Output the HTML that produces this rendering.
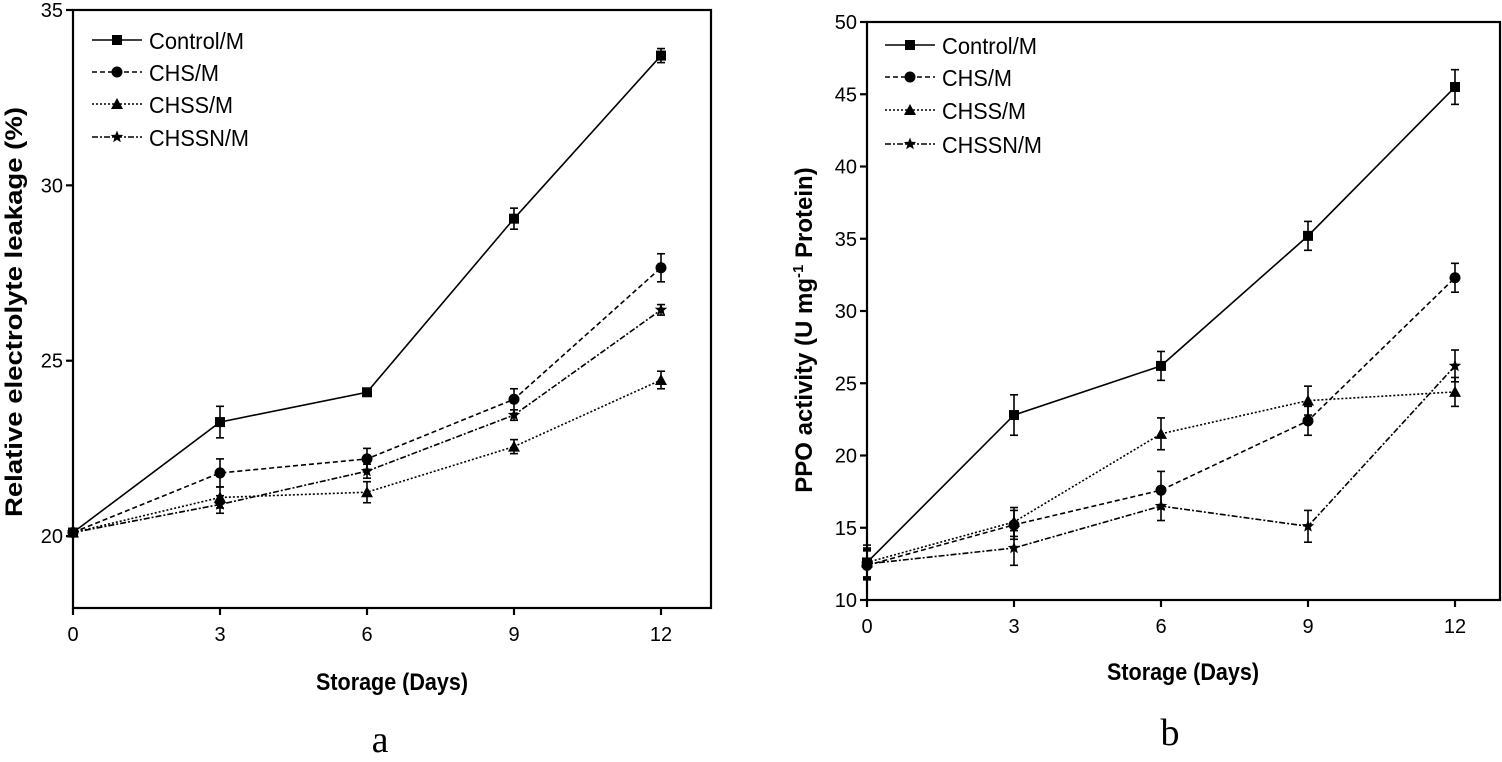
<!DOCTYPE html>
<html><head><meta charset="utf-8"><style>
body{margin:0;background:#fff}
svg text{font-family:"Liberation Sans Narrow","Liberation Sans",Arial,sans-serif;fill:#000}
</style></head><body>
<svg id="s" width="1502" height="757" viewBox="0 0 1502 757" xmlns="http://www.w3.org/2000/svg"></svg>
<script>
const s=document.getElementById('s');let h='';
const dash=['','5,3','2,2','6,2,2,2'];
function marker(k,x,y){
 if(k==0)return `<rect x="${x-5}" y="${y-5}" width="10" height="10"/>`;
 if(k==1)return `<circle cx="${x}" cy="${y}" r="5.5"/>`;
 if(k==2)return `<polygon points="${x},${y-6} ${x-6},${y+5} ${x+6},${y+5}"/>`;
 let p=[];for(let i=0;i<10;i++){let r=i%2?2.8:6.5,a=-Math.PI/2+i*Math.PI/5;p.push((x+r*Math.cos(a)).toFixed(1)+','+(y+r*Math.sin(a)).toFixed(1));}
 return `<polygon points="${p.join(' ')}"/>`;
}
function chart(o){
 const X=d=>o.x0+d*o.dx, Y=v=>o.ytop+(o.vtop-v)*o.py;
 h+=`<g stroke="#000" stroke-width="2.2" fill="none"><rect x="${o.x0}" y="${o.ytop}" width="${o.x1-o.x0}" height="${o.yb-o.ytop}"/></g>`;
 for(let d=0;d<=12;d+=3){h+=`<line x1="${X(d)}" y1="${o.yb}" x2="${X(d)}" y2="${o.yb+7}" stroke="#000" stroke-width="2.2"/><text x="${X(d)}" y="${o.yb+33}" font-size="20" text-anchor="middle">${d}</text>`;}
 for(const v of o.yt){h+=`<line x1="${o.x0-7}" y1="${Y(v)}" x2="${o.x0}" y2="${Y(v)}" stroke="#000" stroke-width="2.2"/><text x="${o.x0-10}" y="${Y(v)+7}" font-size="20" text-anchor="end">${v}</text>`;}
 o.data.forEach((ser,k)=>{
  const pts=ser.v.map((v,i)=>X(i*3)+','+Y(v)).join(' ');
  h+=`<polyline points="${pts}" fill="none" stroke="#000" stroke-width="1.6" stroke-dasharray="${dash[k]}"/>`;
  ser.v.forEach((v,i)=>{const e=ser.e[i],x=X(i*3);h+=`<g stroke="#000" stroke-width="1.6"><line x1="${x}" y1="${Y(v-e)}" x2="${x}" y2="${Y(v+e)}"/><line x1="${x-4}" y1="${Y(v-e)}" x2="${x+4}" y2="${Y(v-e)}"/><line x1="${x-4}" y1="${Y(v+e)}" x2="${x+4}" y2="${Y(v+e)}"/></g>`;h+=marker(k,x,Y(v));});
  const ly=o.ly[k];
  h+=`<line x1="${o.lx}" y1="${ly}" x2="${o.lx+50}" y2="${ly}" stroke="#000" stroke-width="1.6" stroke-dasharray="${dash[k]}"/>`+marker(k,o.lx+25,ly)+`<text x="${o.lx+57}" y="${ly+9}" font-size="23" textLength="${ser.w}" lengthAdjust="spacingAndGlyphs">${ser.n}</text>`;
 });
}
chart({x0:73,x1:711,ytop:10,yb:608,dx:49,vtop:35,py:35.07,yt:[20,25,30,35],lx:92,ly:[40,72,104,137],
data:[{n:'Control/M',w:95,v:[20.1,23.25,24.1,29.05,33.7],e:[0.1,0.45,0.1,0.3,0.2]},
{n:'CHS/M',w:70,v:[20.1,21.8,22.2,23.9,27.65],e:[0.1,0.4,0.3,0.3,0.4]},
{n:'CHSS/M',w:84,v:[20.1,21.1,21.25,22.55,24.45],e:[0.1,0.3,0.3,0.2,0.25]},
{n:'CHSSN/M',w:100,v:[20.1,20.9,21.85,23.45,26.45],e:[0.1,0.25,0.2,0.15,0.15]}]});
chart({x0:867,x1:1500,ytop:22,yb:600,dx:49,vtop:50,py:14.45,yt:[10,15,20,25,30,35,40,45,50],lx:885,ly:[45,77,110,144],
data:[{n:'Control/M',w:95,v:[12.6,22.8,26.2,35.2,45.5],e:[1.2,1.4,1.0,1.0,1.2]},
{n:'CHS/M',w:70,v:[12.4,15.2,17.6,22.4,32.3],e:[1.0,1.0,1.3,1.0,1.0]},
{n:'CHSS/M',w:84,v:[12.6,15.4,21.5,23.8,24.4],e:[1.0,1.0,1.1,1.0,1.0]},
{n:'CHSSN/M',w:100,v:[12.5,13.6,16.5,15.1,26.2],e:[1.0,1.2,1.0,1.1,1.1]}]});
h+=`<text x="392" y="690" font-size="24" font-weight="bold" text-anchor="middle" textLength="152" lengthAdjust="spacingAndGlyphs">Storage (Days)</text>`;
h+=`<text x="1183" y="680" font-size="24" font-weight="bold" text-anchor="middle" textLength="152" lengthAdjust="spacingAndGlyphs">Storage (Days)</text>`;
h+=`<text transform="translate(22,312) rotate(-90)" font-size="24" font-weight="bold" text-anchor="middle" textLength="410" lengthAdjust="spacingAndGlyphs">Relative electrolyte leakage (%)</text>`;
h+=`<text transform="translate(812,330) rotate(-90)" font-size="24" font-weight="bold" text-anchor="middle">PPO activity (U mg<tspan dy="-9" font-size="15">-1</tspan><tspan dy="9"> Protein)</tspan></text>`;
h+=`<text x="380" y="752" font-size="38" text-anchor="middle" style="font-family:'Liberation Serif',serif">a</text>`;
h+=`<text x="1170" y="745" font-size="38" text-anchor="middle" style="font-family:'Liberation Serif',serif">b</text>`;
s.innerHTML=h;
</script>
</body></html>
